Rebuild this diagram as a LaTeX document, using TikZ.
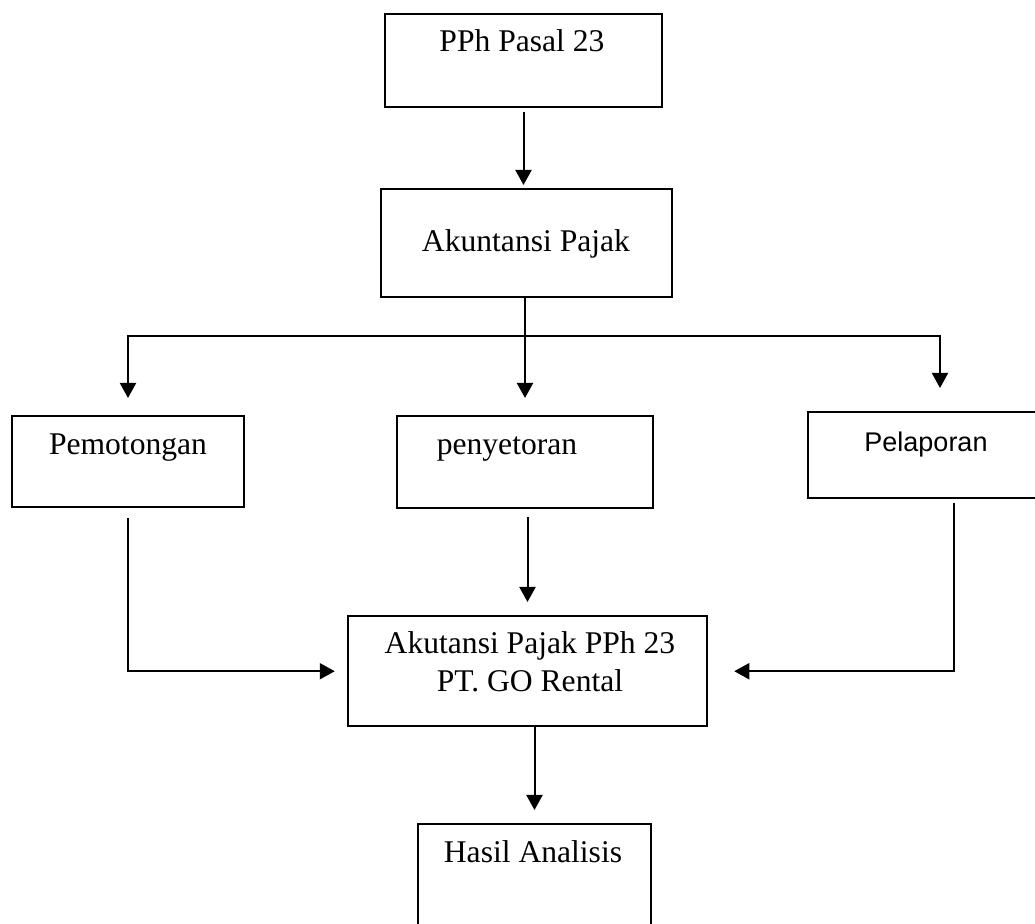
\documentclass[tikz,border=0pt]{standalone}
\usepackage{fontspec}
\setmainfont{Liberation Serif}
\newfontfamily\pelafont{Liberation Sans}
\usetikzlibrary{arrows.meta}
\tikzstyle{flowbox}=[draw,rectangle,line width=1.25pt,anchor=north,inner sep=0pt]
\tikzstyle{boxtext}=[anchor=base,inner sep=0pt,font=\fontsize{15.8}{19}\selectfont]
\tikzstyle{edge} = [draw,line width=1pt,-{Triangle[length=7.5pt,width=8pt]}]
\tikzstyle{plainedge} = [draw,line width=1pt]

\begin{document}
\begin{tikzpicture}[x=0.5pt,y=-0.5pt]
    \useasboundingbox (0,0) rectangle (1035,924);

    % boxes
    \foreach \pos/\w/\h/\name in {{(523.5,13)/138.5/46.5/pph}, {(526.5,188)/145.5/54/akun},
        {(128,415)/116/45.5/pemo}, {(525,415)/128/46/peny}, {(923,411)/115/43/pela},
        {(527.5,615)/179.5/55/akut}, {(534.5,823)/116.5/53/hasil}}
        \node[flowbox,minimum width=\w pt,minimum height=\h pt] (\name) at \pos {};

    % texts
    \foreach \pos/\txt/\name in {{(522,52)/PPh Pasal 23/pph-t}, {(526,252)/Akuntansi Pajak/akun-t},
        {(128,455)/Pemotongan/pemo-t}, {(507,455)/penyetoran/peny-t},
        {(530,654)/Akutansi Pajak PPh 23/akut-t1}, {(530,692)/PT. GO Rental/akut-t2},
        {(533,863)/Hasil Analisis/hasil-t}}
        \node[boxtext] (\name) at \pos {\txt};
    \node[boxtext,font=\pelafont\fontsize{13.5}{16}\selectfont] (pela-t) at (926,452) {Pelaporan};

    \coordinate (split) at (525,336);
    \coordinate (pela-in) at (940,411);
    \coordinate (pela-out) at (954,497);

    % connectors
    \path[edge,shorten <=2pt,shorten >=1.5pt] (pph.south) -- (pph.south |- akun.north);
    \path[plainedge] (split |- akun.south) -- (split);
    \path[edge,shorten >=8.5pt] (split) -- (split |- peny.north);
    \path[edge,shorten >=8.5pt] (split) -| (pemo.north);
    \path[edge,shorten >=11.5pt] (split) -| (pela-in);
    \path[edge,shorten <=5pt,shorten >=6pt] (pemo.south) |- (akut.west);
    \path[edge,shorten <=4pt,shorten >=6.5pt] (akut.north |- peny.south) -- (akut.north);
    \path[edge,shorten <=3pt,shorten >=13pt] (pela-out) |- (akut.east);
    \path[edge,shorten >=6.5pt] (hasil.north |- akut.south) -- (hasil.north);

\end{tikzpicture}
\end{document}
